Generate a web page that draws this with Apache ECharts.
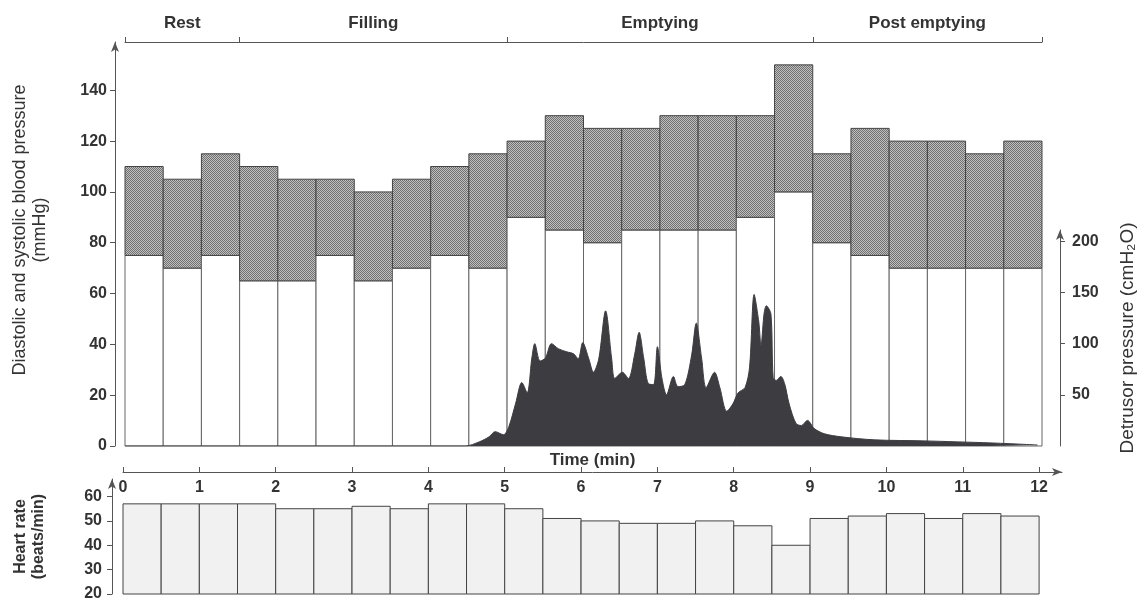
<!DOCTYPE html>
<html>
<head>
<meta charset="utf-8">
<title>Blood pressure, detrusor pressure and heart rate during micturition</title>
<script src="https://cdn.jsdelivr.net/npm/echarts@6/dist/echarts.min.js"></script>
<style>
  html, body { margin: 0; background: #fff; }
  #chart { width: 1145px; height: 602px; }
</style>
</head>
<body>
<div id="chart"></div>
<script>
// half-minute measurement slots (start, min)
var slotStart = [0, 0.5, 1, 1.5, 2, 2.5, 3, 3.5, 4, 4.5, 5, 5.5, 6, 6.5, 7, 7.5, 8, 8.5, 9, 9.5, 10, 10.5, 11, 11.5];
var systolic = [110, 105, 115, 110, 105, 105, 100, 105, 110, 115, 120, 130, 125, 125, 130, 130, 130, 150, 115, 125, 120, 120, 115, 120];
var diastolic = [75, 70, 75, 65, 65, 75, 65, 70, 75, 70, 90, 85, 80, 85, 85, 85, 90, 100, 80, 75, 70, 70, 70, 70];
var heartRate = [57, 57, 57, 57, 55, 55, 56, 55, 57, 57, 55, 51, 50, 49, 49, 50, 48, 40, 51, 52, 53, 51, 53, 52];

// detrusor pressure trace (cmH2O)
var detrusorTime = [0, 4.47, 4.65, 4.78, 4.86, 4.97, 5.04, 5.13, 5.21, 5.28, 5.34, 5.38, 5.45, 5.52, 5.6, 5.69, 5.8, 5.89, 5.95, 6.01,
  6.09, 6.15, 6.22, 6.31, 6.39, 6.43, 6.53, 6.61, 6.69, 6.75, 6.81, 6.87, 6.94, 6.99, 7.05, 7.11, 7.2, 7.26, 7.35, 7.44,
  7.5, 7.57, 7.63, 7.74, 7.81, 7.9, 7.98, 8.05, 8.14, 8.2, 8.26, 8.32, 8.35, 8.39, 8.42, 8.48, 8.51, 8.55, 8.61, 8.66,
  8.72, 8.81, 8.88, 8.96, 9.05, 9.18, 9.4, 9.84, 10.49, 11.37, 11.98];
var detrusor = [0, 0, 4, 9, 14, 11, 19, 42, 62, 52, 85, 100, 83, 86, 100, 95, 92, 90, 85, 101,
  85, 72, 85, 132, 85, 66, 72, 66, 89, 111, 86, 61, 60, 97, 66, 50, 68, 58, 60, 89,
  120, 86, 57, 72, 57, 34, 41, 52, 57, 77, 148, 122, 98, 129, 137, 129, 67, 64, 68, 61,
  41, 22, 20, 25, 17, 12, 9, 6, 5, 3, 1];

var phaseNames = ["Rest", "Filling", "Emptying", "Post emptying"];
var phaseEdges = [0, 1.5, 5, 9, 12];
var bpTicks = [0, 20, 40, 60, 80, 100, 120, 140];
var detrusorTicks = [50, 100, 150, 200];
var hrTicks = [20, 30, 40, 50, 60];
var timeTicks = [0, 1, 2, 3, 4, 5, 6, 7, 8, 9, 10, 11, 12];

var slotWidth = 0.5;
var phaseMid = phaseEdges.slice(1).map(function(e, i) { return (phaseEdges[i] + e) / 2; });

// stippled fill like the printed halftone
var dots = document.createElement("canvas");
dots.width = 2;
dots.height = 2;
var g = dots.getContext("2d");
g.fillStyle = "#c0c0c0";
g.fillRect(0, 0, 2, 2);
g.fillStyle = "#707070";
g.fillRect(0, 0, 1, 1);
g.fillRect(1, 1, 1, 1);

var ink = "#333";
var axisInk = "#555";
var font = "Liberation Sans, Arial, sans-serif";

function axisLine(arrow) {
  return {
    show: true, onZero: false,
    symbol: arrow ? ["none", "arrow"] : "none", symbolSize: [6, 10],
    lineStyle: { color: axisInk, width: 1 }
  };
}

var myChart = echarts.init(document.getElementById("chart"), null, { renderer: "canvas" });

var option = {
  animation: false,
  textStyle: { fontFamily: font, color: ink },
  grid: [
    { left: 125, right: 103, top: 42, bottom: 156 },   // blood pressure
    { left: 125, right: 103, top: 230, bottom: 156 },  // detrusor pressure
    { left: 123, right: 83, top: 479, bottom: 5 }      // heart rate
  ],
  xAxis: [
    {
      type: "value", gridIndex: 0, position: "top", min: 0, max: 12, offset: 0,
      axisLine: axisLine(false),
      axisTick: { show: true, customValues: phaseEdges, length: 5, lineStyle: { color: axisInk } },
      axisLabel: {
        show: true, customValues: phaseMid, margin: 10,
        fontSize: 17, fontWeight: "bold", color: ink,
        formatter: function(v) { return phaseNames[phaseMid.indexOf(v)]; }
      },
      splitLine: { show: false }
    },
    { type: "value", gridIndex: 1, min: 0, max: 12, show: false },
    {
      type: "value", gridIndex: 2, position: "top", min: 0, max: 12.3, offset: 7,
      name: "Time (min)", nameLocation: "middle", nameGap: 3,
      nameTextStyle: { fontSize: 17, fontWeight: "bold", color: ink },
      axisLine: axisLine(true),
      axisTick: { show: true, customValues: timeTicks, length: 5, lineStyle: { color: axisInk } },
      axisLabel: { show: true, customValues: timeTicks, inside: true, margin: 8, fontSize: 16, fontWeight: "bold", color: ink },
      splitLine: { show: false }
    }
  ],
  yAxis: [
    {
      type: "value", gridIndex: 0, position: "left", offset: 10, min: 0, max: 159,
      name: "Diastolic and systolic blood pressure\n(mmHg)", nameLocation: "middle", nameGap: 65,
      nameTextStyle: { fontSize: 18, lineHeight: 20, color: ink, padding: [0, 0, 0, 28] },
      axisLine: axisLine(true),
      axisTick: { show: true, customValues: bpTicks, length: 5, lineStyle: { color: axisInk } },
      axisLabel: { customValues: bpTicks, margin: 8, fontSize: 16, fontWeight: "bold", color: ink },
      splitLine: { show: false }
    },
    {
      type: "value", gridIndex: 1, position: "right", offset: 21, min: 0, max: 211,
      name: "Detrusor pressure (cmH\u2082O)", nameLocation: "middle", nameGap: 58,
      nameTextStyle: { fontSize: 19, color: ink },
      axisLine: axisLine(true),
      axisTick: { show: true, customValues: detrusorTicks, length: 5, lineStyle: { color: axisInk } },
      axisLabel: { customValues: detrusorTicks, margin: 12, fontSize: 16, fontWeight: "bold", color: ink },
      splitLine: { show: false }
    },
    {
      type: "value", gridIndex: 2, position: "left", offset: 11, min: 20, max: 67.2,
      name: "Heart rate\n(beats/min)", nameLocation: "middle", nameGap: 64,
      nameTextStyle: { fontSize: 16, lineHeight: 18, fontWeight: "bold", color: ink },
      axisLine: axisLine(true),
      axisTick: { show: true, customValues: hrTicks, length: 5, lineStyle: { color: axisInk } },
      axisLabel: { customValues: hrTicks, margin: 10, fontSize: 16, fontWeight: "bold", color: ink },
      splitLine: { show: false }
    }
  ],
  series: [
    {
      // white = diastolic, stippled = diastolic..systolic
      type: "custom", xAxisIndex: 0, yAxisIndex: 0, z: 2,
      encode: { x: 0, y: [1, 2] },
      data: slotStart.map(function(t, i) { return [t, diastolic[i], systolic[i]]; }),
      renderItem: function(params, api) {
        var t = api.value(0);
        var base = api.coord([t, 0]);
        var dia = api.coord([t + slotWidth, api.value(1)]);
        var sys = api.coord([t + slotWidth, api.value(2)]);
        var w = dia[0] - base[0];
        return {
          type: "group",
          children: [
            { type: "rect", shape: { x: base[0], y: dia[1], width: w, height: base[1] - dia[1] },
              style: { fill: "#fff", stroke: "#666", lineWidth: 1 } },
            { type: "rect", shape: { x: base[0], y: sys[1], width: w, height: dia[1] - sys[1] },
              style: { fill: { image: dots, repeat: "repeat" }, stroke: "#444", lineWidth: 1 } }
          ]
        };
      }
    },
    {
      type: "line", xAxisIndex: 1, yAxisIndex: 1, z: 3,
      data: detrusorTime.map(function(t, i) { return [t, detrusor[i]]; }),
      symbol: "none", smooth: 0.3,
      lineStyle: { color: "#3c3c41", width: 1 },
      areaStyle: { color: "#3c3c41", opacity: 1 }
    },
    {
      type: "custom", xAxisIndex: 2, yAxisIndex: 2, z: 2,
      encode: { x: 0, y: 1 },
      data: slotStart.map(function(t, i) { return [t, heartRate[i]]; }),
      renderItem: function(params, api) {
        var t = api.value(0);
        var base = api.coord([t, 20]);
        var top = api.coord([t + slotWidth, api.value(1)]);
        return {
          type: "rect",
          shape: { x: base[0], y: top[1], width: top[0] - base[0], height: base[1] - top[1] },
          style: { fill: "#f1f1f1", stroke: "#444", lineWidth: 1 }
        };
      }
    }
  ]
};
myChart.setOption(option);
window.addEventListener("resize", function() {
  myChart.resize();
});
</script>
</body>
</html>
